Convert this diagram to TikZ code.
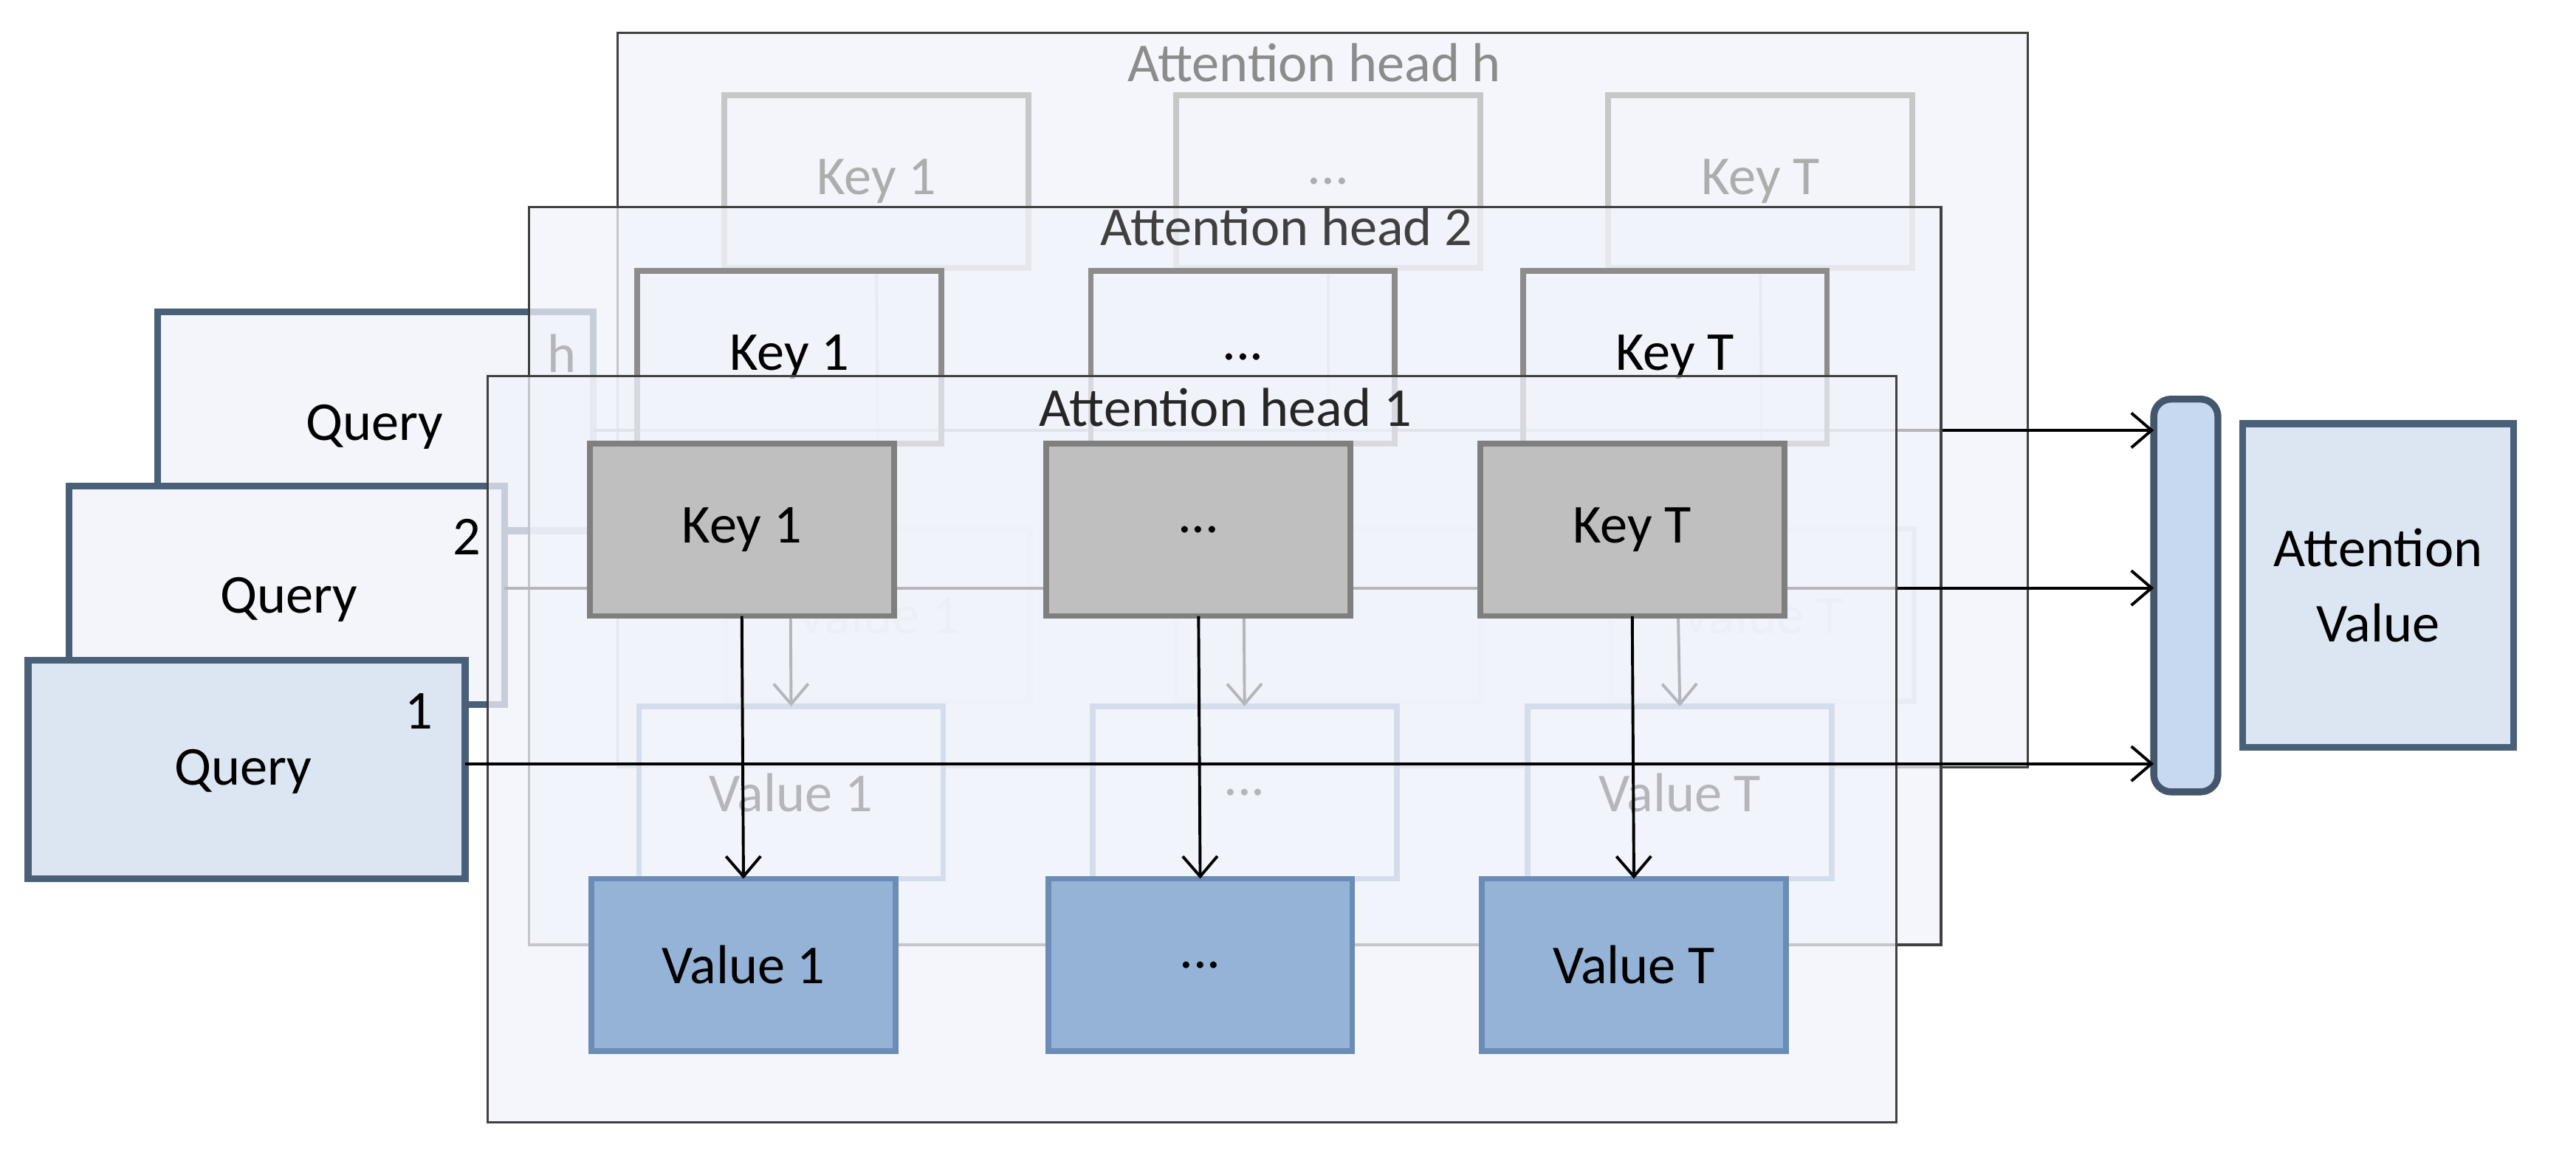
\documentclass[tikz,border=0pt]{standalone}
\usepackage{fontspec}
\setmainfont{Carlito}
\usetikzlibrary{arrows.meta}
\definecolor{frfill}{HTML}{F1F3FB}
\definecolor{qdark}{HTML}{4A6078}
\definecolor{qlight}{HTML}{DCE6F2}
\definecolor{qpale}{HTML}{F3F5FB}
\definecolor{kgray}{HTML}{BFBFBF}
\definecolor{kborder}{HTML}{7F7F7F}
\definecolor{vfill}{HTML}{95B3D7}
\definecolor{vborder}{HTML}{6A8CB5}
\definecolor{barfill}{HTML}{C6D9F1}
\tikzset{
  x=0.01cm, y=-0.01cm,
  every node/.style={font=\fontsize{9.5}{11}\selectfont, inner sep=0pt, outer sep=0pt},
  frame/.style={draw=black!75, line width=0.4pt, fill=frfill, fill opacity=0.75, text opacity=1, anchor=north west},
  title/.style={font=\fontsize{9.5}{11}\selectfont},
  box/.style={anchor=north west, minimum width=1.85cm, minimum height=1.05cm, line width=1pt},
  keyh/.style={box, draw=black!22, fill=frfill, fill opacity=0.5, text opacity=1, text=black!32},
  valh/.style={box, draw=blue!30!black!15, fill=frfill, fill opacity=0.5, text opacity=1, text=black!28},
  key2/.style={box, draw=black!45, fill=frfill, fill opacity=0.55, text opacity=1},
  val2/.style={box, draw=vborder!85, fill=white, fill opacity=0.55, text opacity=1},
  key1/.style={box, draw=kborder, fill=kgray},
  val1/.style={box, draw=vborder, fill=vfill},
  qbox/.style={anchor=north west, minimum width=2.65cm, minimum height=1.33cm, line width=1.2pt, draw=qdark},
  arr/.style={-{Straight Barb[length=3.5pt,width=6pt]}, line width=0.5pt},
  num/.style={font=\fontsize{9.5}{11}\selectfont}
}
\begin{document}
\begin{tikzpicture}
\useasboundingbox (0,0) rectangle (1568,700);
% ---- head h ----
\node[frame, minimum width=8.58cm, minimum height=4.47cm] (fh) at (376,20) {};
\node[title, text=black!45] (th) at (800,38) {Attention head h};
\node[keyh] (hk1) at (441,58) {Key 1};
\node[keyh] (hk2) at (716,58) {...};
\node[keyh] (hk3) at (979,58) {Key T};
\node[valh] (hv1) at (442,322) {Value 1};
\node[valh] (hv2) at (716,322) {...};
\node[valh] (hv3) at (980,322) {Value T};
\foreach \i in {1,2,3} \draw[arr, black!35] (hk\i.south) -- (hv\i.north);
% query h
\node[qbox, fill=qpale] (qh) at (96,190) {};
\node (qht) at (228,260) {Query};
\node[num] (nh) at (342,215) {h};
% bar + result
\node[anchor=north west, minimum width=0.39cm, minimum height=2.39cm, rounded corners=3pt, draw=qdark!90!black, line width=1.2pt, fill=barfill] (bar) at (1311,243) {};
\node[anchor=north west, minimum width=1.65cm, minimum height=1.97cm, draw=qdark, line width=1.2pt, fill=qlight, align=center] (av) at (1365,258) {Attention\\[2pt]Value};
\coordinate (eh) at (qh.east |- 0,262);
\coordinate (bh) at (bar.west |- 0,262);
\draw[arr] (eh) -- (bh);
% ---- head 2 ----
\node[frame, minimum width=8.59cm, minimum height=4.49cm] (f2) at (322,126) {};
\node[title, text=black!75] (t2) at (783,138) {Attention head 2};
\node[key2] (sk1) at (388,165) {Key 1};
\node[key2] (sk2) at (664,165) {...};
\node[key2] (sk3) at (927,165) {Key T};
\node[val2] (sv1) at (389,430) {Value 1};
\node[val2] (sv2) at (665,430) {...};
\node[val2] (sv3) at (930,430) {Value T};
\foreach \i in {1,2,3} \draw[arr] (sk\i.south) -- (sv\i.north);
% query 2
\node[qbox, fill=qpale, minimum width=2.65cm] (q2) at (42,296) {};
\node (q2t) at (176,365) {Query};
\node[num] (n2) at (284,327) {2};
\coordinate (e2) at (q2.east |- 0,358);
\coordinate (b2) at (bar.west |- 0,358);
\draw[arr] (e2) -- (b2);
% ---- head 1 ----
\node[frame, minimum width=8.57cm, minimum height=4.54cm] (f1) at (297,229) {};
\node[title, text=black!85] (t1) at (746,248) {Attention head 1};
\node[key1] (k1) at (359,270) {Key 1};
\node[key1] (k2) at (637,270) {...};
\node[key1] (k3) at (901,270) {Key T};
\node[val1] (v1) at (360,535) {Value 1};
\node[val1] (v2) at (638,535) {...};
\node[val1] (v3) at (902,535) {Value T};
\foreach \i in {1,2,3} \draw[arr] (k\i.south) -- (v\i.north);
% query 1
\node[qbox, fill=qlight, minimum width=2.66cm] (q1) at (17,402) {};
\node (q1t) at (148,470) {Query};
\node[num] (n1) at (255,433) {1};
\coordinate (e1) at (q1.east |- 0,465);
\coordinate (b1) at (bar.west |- 0,465);
\draw[arr] (e1) -- (b1);
\end{tikzpicture}
\end{document}
